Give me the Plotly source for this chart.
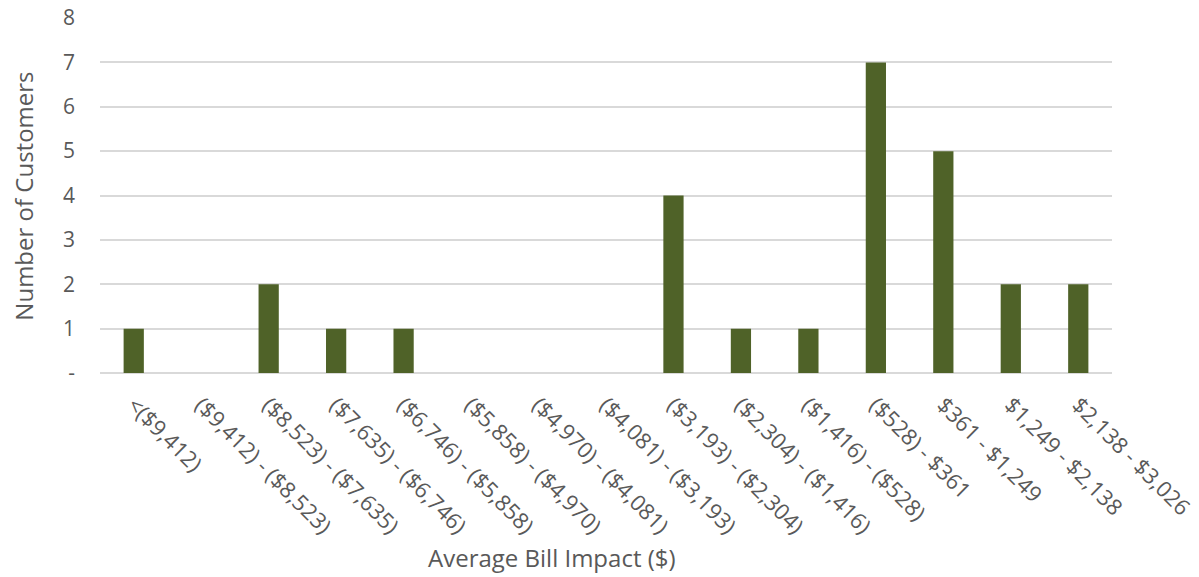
import plotly.graph_objects as go

# Bill-impact bins and customer counts
categories = [
    "<($9,412)",
    "($9,412) - ($8,523)",
    "($8,523) - ($7,635)",
    "($7,635) - ($6,746)",
    "($6,746) - ($5,858)",
    "($5,858) - ($4,970)",
    "($4,970) - ($4,081)",
    "($4,081) - ($3,193)",
    "($3,193) - ($2,304)",
    "($2,304) - ($1,416)",
    "($1,416) - ($528)",
    "($528) - $361",
    "$361 - $1,249",
    "$1,249 - $2,138",
    "$2,138 - $3,026",
]
customers = [1, 0, 2, 1, 1, 0, 0, 0, 4, 1, 1, 7, 5, 2, 2]

y_tick_vals = [0, 1, 2, 3, 4, 5, 6, 7, 8]
y_tick_text = ["-", "1", "2", "3", "4", "5", "6", "7", "8"]

FONT = "Open Sans"
TEXT_COLOR = "#595959"
GRID_COLOR = "#d9d9d9"
BAR_COLOR = "#4f6228"

fig = go.Figure(
    go.Bar(
        x=categories,
        y=customers,
        marker=dict(color=BAR_COLOR, line=dict(width=0)),
    )
)

fig.update_layout(
    width=1199,
    height=577,
    margin=dict(l=100, r=87, t=18, b=204, autoexpand=False),
    paper_bgcolor="white",
    plot_bgcolor="white",
    bargap=0.70,
    showlegend=False,
    font=dict(family=FONT, color=TEXT_COLOR, size=21),
)

fig.update_xaxes(
    tickangle=45,
    tickfont=dict(family=FONT, size=22, color=TEXT_COLOR),
    showgrid=False,
    showline=False,
    ticks="",
    automargin=False,
    ticklabelstandoff=14,
)

fig.update_yaxes(
    range=[0, 8],
    tickvals=y_tick_vals,
    ticktext=y_tick_text,
    tickfont=dict(family=FONT, size=21, color=TEXT_COLOR),
    showgrid=True,
    gridcolor=GRID_COLOR,
    gridwidth=1.5,
    zeroline=True,
    zerolinecolor=GRID_COLOR,
    zerolinewidth=1.5,
    showline=False,
    ticks="",
    automargin=False,
    ticklabelstandoff=24,
)

# Axis titles
fig.add_annotation(
    text="Number of Customers",
    xref="paper", yref="paper",
    x=-0.076, y=0.497,
    xanchor="center", yanchor="middle",
    textangle=-90,
    showarrow=False,
    font=dict(family=FONT, size=24, color=TEXT_COLOR),
)
fig.add_annotation(
    text="Average Bill Impact ($)",
    xref="paper", yref="paper",
    x=0.447, y=-0.521,
    xanchor="center", yanchor="middle",
    showarrow=False,
    font=dict(family=FONT, size=24, color=TEXT_COLOR),
)

fig.write_html("out.html")
